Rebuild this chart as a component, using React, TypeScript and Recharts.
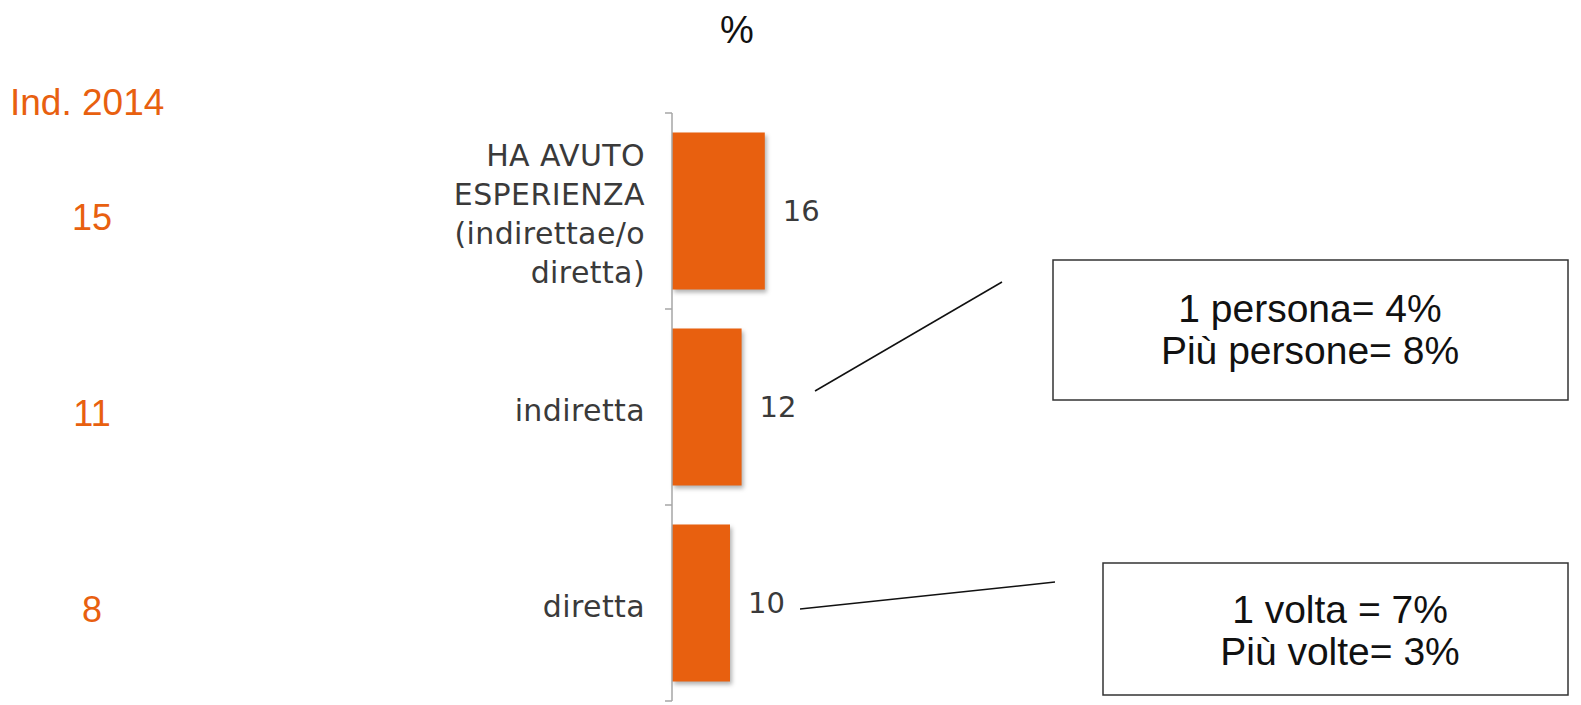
import { BarChart, Bar, XAxis, YAxis, LabelList } from "recharts";

// categories (multi-line labels split by "|")
const categories = ["HA AVUTO|ESPERIENZA|(indirettae/o|diretta)", "indiretta", "diretta"];
const values = [16, 12, 10];
const ind2014 = [15, 11, 8];

const callout1 = ["1 persona= 4%", "Più persone= 8%"];
const callout2 = ["1 volta = 7%", "Più volte= 3%"];

const ORANGE = "#E8600F";
const TEXT = "#3a3a3a";
const AXIS = "#A6A6A6";

const CHART_H = 705;
const MARGIN = { top: 113, right: 329, bottom: 4, left: 0 };
const BAND = (CHART_H - MARGIN.top - MARGIN.bottom) / categories.length;
const TICK_MARGIN = 27;

const data = categories.map((c, i) => ({ name: c, value: values[i], ind: ind2014[i] }));

function CategoryTick(props: any) {
  const { x, y, payload, index } = props;
  const lines = String(payload.value).split("|");
  const n = lines.length;
  const axisX = x + TICK_MARGIN;
  return (
    <g>
      {/* tick marks sit on the band edges, not the centres */}
      <line x1={axisX - 7} x2={axisX} y1={y - BAND / 2} y2={y - BAND / 2} stroke={AXIS} strokeWidth={1.5} />
      {index === categories.length - 1 && (
        <line x1={axisX - 7} x2={axisX} y1={y + BAND / 2} y2={y + BAND / 2} stroke={AXIS} strokeWidth={1.5} />
      )}
      {lines.map((l, i) => (
        <text
          key={i}
          x={x}
          y={y + (i - (n - 1) / 2) * 39 + 3}
          textAnchor="end"
          dominantBaseline="central"
          fill={TEXT}
          fontSize={30}
          letterSpacing={0.4}
          fontFamily="DejaVu Sans"
        >
          {l}
        </text>
      ))}
      <text
        x={92}
        y={y + 6}
        textAnchor="middle"
        dominantBaseline="central"
        fill={ORANGE}
        fontSize={36}
        fontFamily="Liberation Sans, Arial"
      >
        {ind2014[index]}
      </text>
    </g>
  );
}

export default function App() {
  return (
    <div style={{ position: "absolute", left: 0, top: 0, width: 1581, height: 705, background: "#fff" }}>
      <style>{`.recharts-bar-rectangle path { filter: drop-shadow(2px 3px 2px rgba(0,0,0,0.3)); }`}</style>
      <BarChart
        width={1581}
        height={CHART_H}
        data={data}
        layout="vertical"
        margin={MARGIN}
        barCategoryGap="10%"
      >
        <XAxis type="number" domain={[0, 100]} hide />
        <YAxis
          type="category"
          dataKey="name"
          width={672}
          axisLine={{ stroke: AXIS, strokeWidth: 1.5 }}
          tickLine={false}
          tickSize={0}
          tickMargin={TICK_MARGIN}
          tick={<CategoryTick />}
          interval={0}
        />
        <Bar dataKey="value" fill={ORANGE} isAnimationActive={false}>
          <LabelList
            dataKey="value"
            position="right"
            offset={18}
            fill={TEXT}
            fontSize={29}
            fontFamily="DejaVu Sans"
          />
        </Bar>
      </BarChart>
      <svg
        width={1581}
        height={705}
        style={{ position: "absolute", left: 0, top: 0, pointerEvents: "none" }}
      >
        <text x={737} y={43} textAnchor="middle" fontSize={38} fontFamily="Liberation Sans, Arial" fill="#111">
          %
        </text>
        <text x={10} y={115} fontSize={37} fontFamily="Liberation Sans, Arial" fill={ORANGE}>
          Ind. 2014
        </text>

        <line x1={815} y1={391} x2={1002} y2={282} stroke="#111" strokeWidth={1.5} />
        <rect x={1053} y={260} width={515} height={140} fill="#fff" stroke="#333" strokeWidth={1.5} />
        {callout1.map((t, i) => (
          <text key={i} x={1310} y={322 + i * 42} textAnchor="middle" fontSize={39} fontFamily="Liberation Sans, Arial" fill="#111">
            {t}
          </text>
        ))}

        <line x1={800} y1={609} x2={1055} y2={582} stroke="#111" strokeWidth={1.5} />
        <rect x={1103} y={563} width={465} height={132} fill="#fff" stroke="#333" strokeWidth={1.5} />
        {callout2.map((t, i) => (
          <text key={i} x={1340} y={623 + i * 42} textAnchor="middle" fontSize={39} fontFamily="Liberation Sans, Arial" fill="#111">
            {t}
          </text>
        ))}
      </svg>
    </div>
  );
}
